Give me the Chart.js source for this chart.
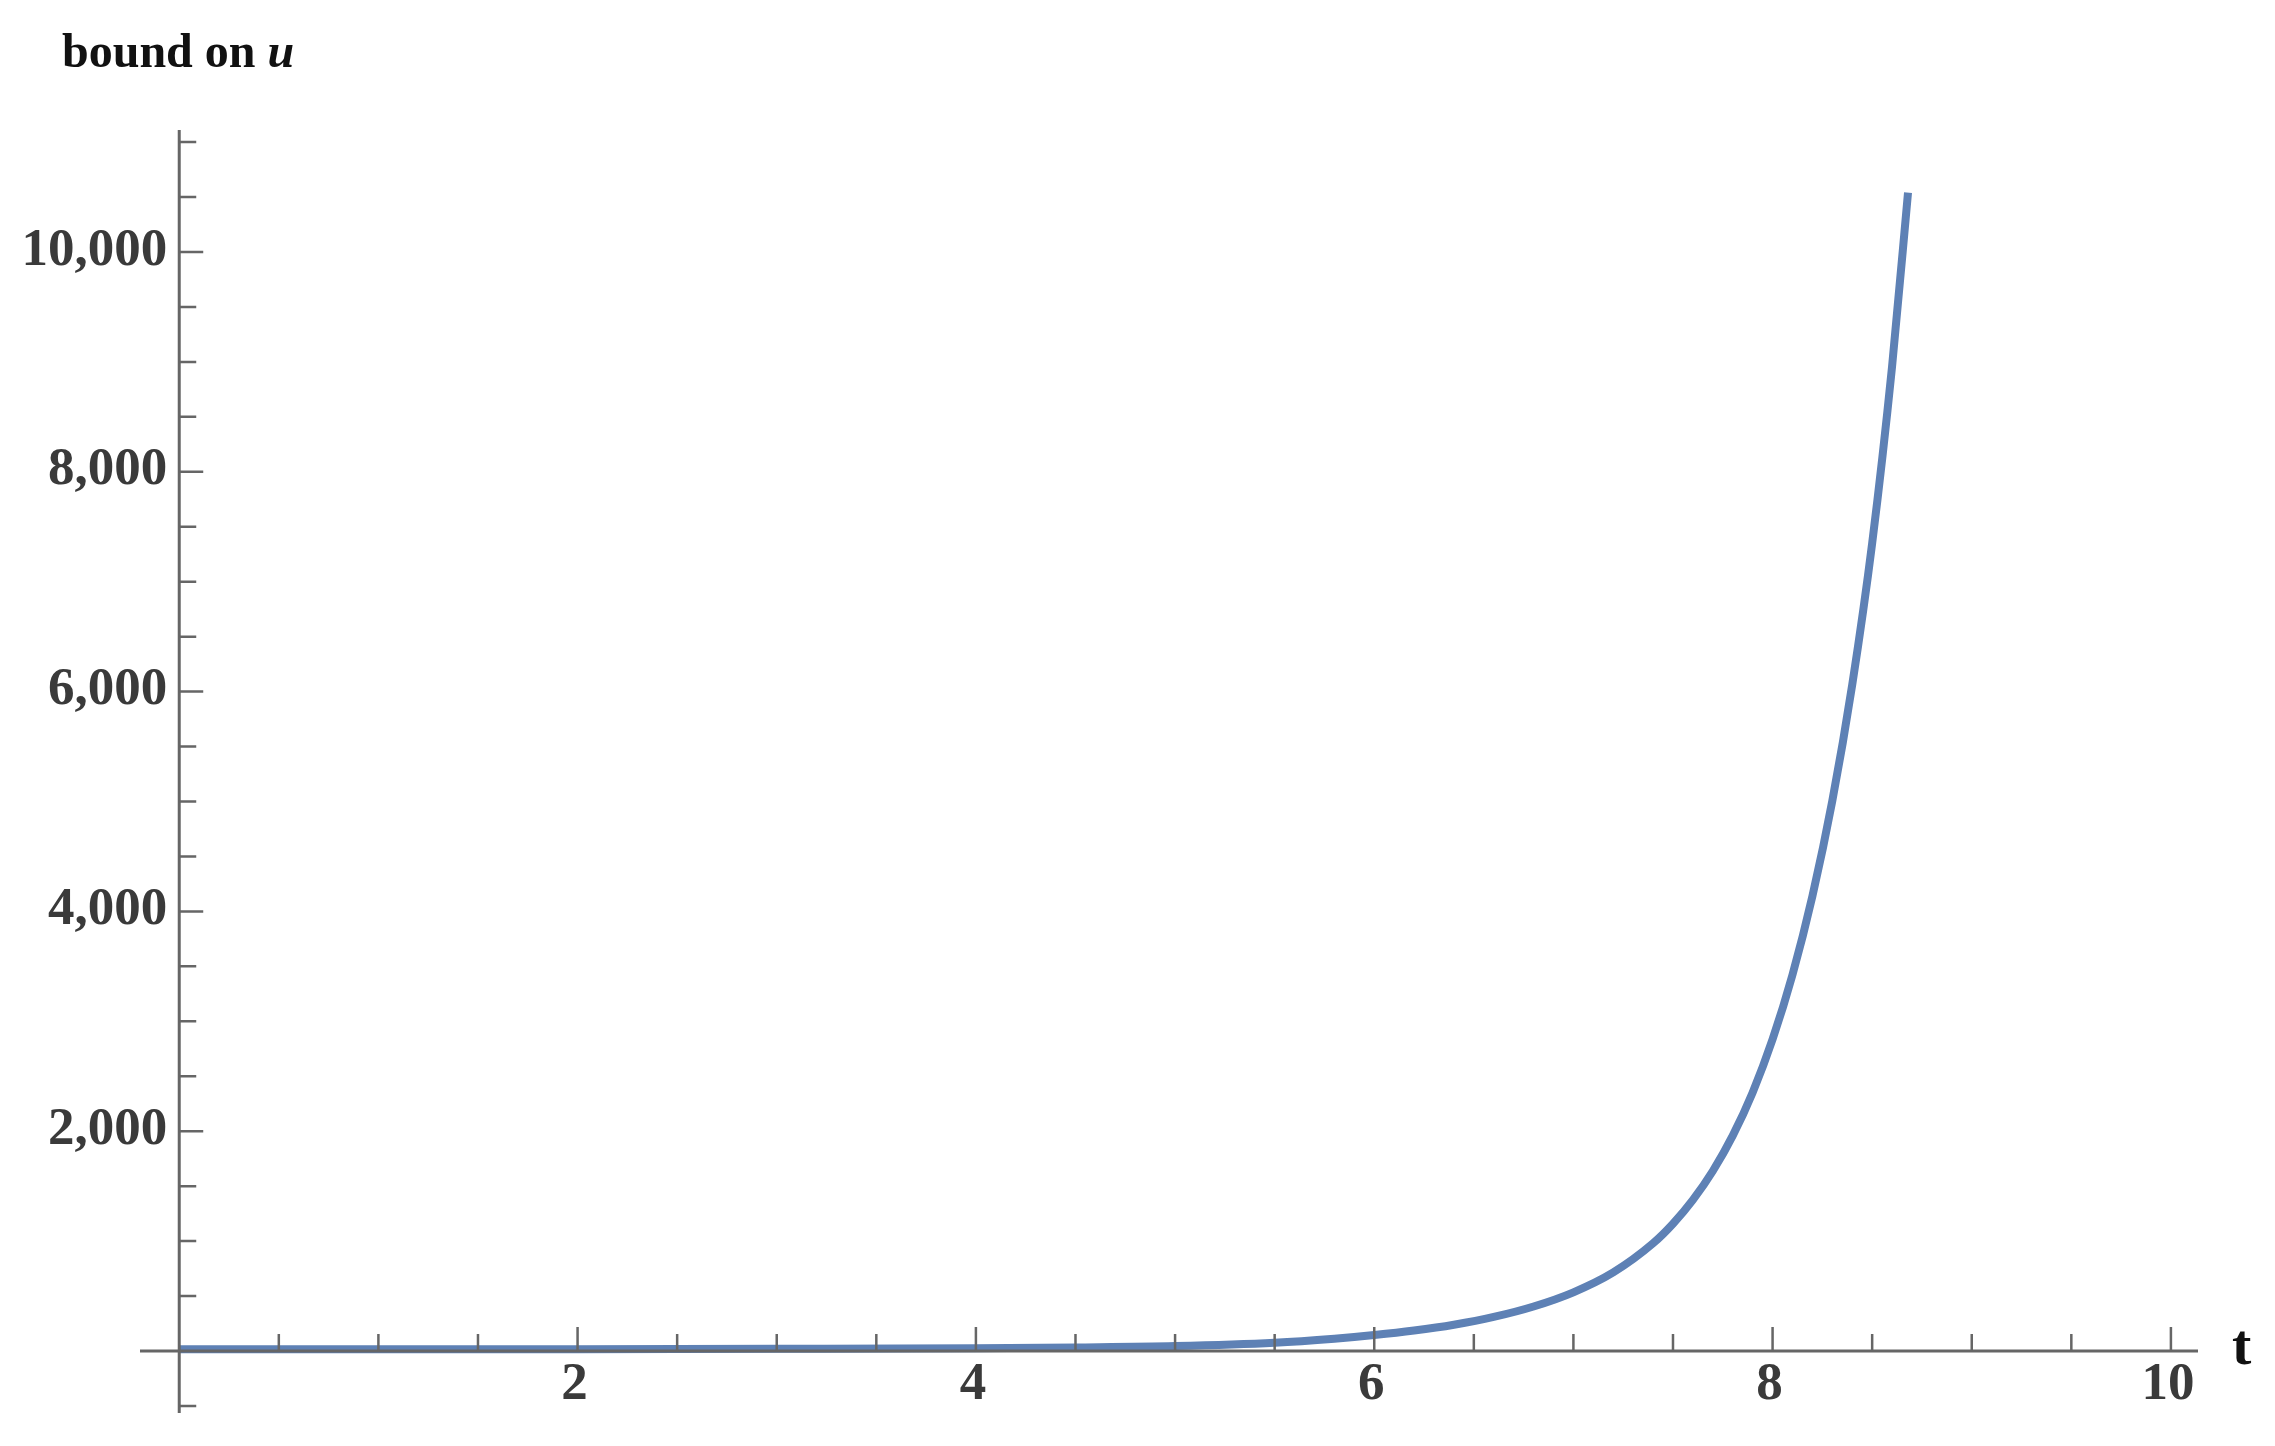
<!DOCTYPE html>
<html>
<head>
<meta charset="utf-8">
<script src="https://cdn.jsdelivr.net/npm/chart.js@4.4.1/dist/chart.umd.min.js"></script>
<style>
  html, body { margin: 0; padding: 0; background: #ffffff; }
  #wrap { width: 2275px; height: 1446px; position: relative; }
  canvas { display: block; }
</style>
</head>
<body>
<div id="wrap"><canvas id="c" width="2275" height="1446"></canvas></div>
<script>
// ---- data ----
const tValues = [0, 1, 2, 3, 4, 4.5, 5, 5.5, 5.8, 6.0, 6.2, 6.4, 6.6, 6.8, 7.0, 7.2, 7.4, 7.5, 7.6, 7.7, 7.8, 7.9, 8.0, 8.1, 8.2, 8.3, 8.4, 8.5, 8.6, 8.68];
const boundValues = [15, 15, 17, 20, 25, 33, 45, 75, 112, 145, 186, 239, 310, 405, 534, 715, 980, 1158, 1375, 1638, 1960, 2353, 2836, 3424, 4139, 5006, 6064, 7350, 8960, 10540];

const xMajorTicks = [2, 4, 6, 8, 10];
const xTickLabels = ['2', '4', '6', '8', '10'];
const xMinorTicks = [0.5, 1, 1.5, 2.5, 3, 3.5, 4.5, 5, 5.5, 6.5, 7, 7.5, 8.5, 9, 9.5];

const yMajorTicks = [2000, 4000, 6000, 8000, 10000];
const yTickLabels = ['2,000', '4,000', '6,000', '8,000', '10,000'];
const yMinorTicks = [-500, 500, 1000, 1500, 2500, 3000, 3500, 4500, 5000, 5500, 6500, 7000, 7500, 8500, 9000, 9500, 10500, 11000];

const yAxisTitle = 'bound on ';
const yAxisTitleVar = 'u';
const xAxisTitle = 't';

const xRange = [-0.197, 10.136];
const yRange = [-564, 11110];

// ---- styles ----
const AXIS_COLOR = '#666666';
const LABEL_COLOR = '#3a3a3a';
const LINE_COLOR = '#5e81b5';
const SERIF = '"Liberation Serif", "DejaVu Serif", serif';

const points = tValues.map((t, i) => ({ x: t, y: boundValues[i] }));

const axesPlugin = {
  id: 'mathAxes',
  afterDatasetsDraw(chart) {
    const ctx = chart.ctx;
    const xs = chart.scales.x, ys = chart.scales.y;
    const area = chart.chartArea;
    const x0 = xs.getPixelForValue(0);
    const y0 = ys.getPixelForValue(0);
    ctx.save();
    ctx.strokeStyle = AXIS_COLOR;
    ctx.lineCap = 'butt';
    // axis lines
    ctx.lineWidth = 3;
    ctx.beginPath();
    ctx.moveTo(area.left, y0); ctx.lineTo(area.right, y0);
    ctx.moveTo(x0, area.top); ctx.lineTo(x0, area.bottom);
    ctx.stroke();
    // ticks
    ctx.lineWidth = 2.5;
    ctx.beginPath();
    xMinorTicks.forEach(v => { const p = xs.getPixelForValue(v); ctx.moveTo(p, y0); ctx.lineTo(p, y0 - 17); });
    xMajorTicks.forEach(v => { const p = xs.getPixelForValue(v); ctx.moveTo(p, y0); ctx.lineTo(p, y0 - 24); });
    yMinorTicks.forEach(v => { const p = ys.getPixelForValue(v); ctx.moveTo(x0, p); ctx.lineTo(x0 + 17, p); });
    yMajorTicks.forEach(v => { const p = ys.getPixelForValue(v); ctx.moveTo(x0, p); ctx.lineTo(x0 + 24, p); });
    ctx.stroke();
    // tick labels
    ctx.fillStyle = LABEL_COLOR;
    ctx.font = 'bold 53px ' + SERIF;
    ctx.textAlign = 'center';
    ctx.textBaseline = 'middle';
    xMajorTicks.forEach((v, i) => {
      ctx.fillText(xTickLabels[i], xs.getPixelForValue(v) - 3, y0 + 34);
    });
    ctx.textAlign = 'right';
    yMajorTicks.forEach((v, i) => {
      ctx.fillText(yTickLabels[i], x0 - 12, ys.getPixelForValue(v) - 1);
    });
    // axis titles
    ctx.fillStyle = '#111111';
    ctx.textAlign = 'left';
    ctx.textBaseline = 'alphabetic';
    ctx.font = 'bold 48px ' + SERIF;
    ctx.fillText(yAxisTitle, 62, 67);
    const w = ctx.measureText(yAxisTitle).width;
    ctx.font = 'italic bold 48px ' + SERIF;
    ctx.fillText(yAxisTitleVar, 62 + w, 67);
    ctx.font = 'bold 58px ' + SERIF;
    ctx.fillText(xAxisTitle, 2232, 1364);
    ctx.restore();
  }
};

new Chart(document.getElementById('c'), {
  type: 'line',
  data: {
    datasets: [{
      data: points,
      borderColor: LINE_COLOR,
      borderWidth: 8,
      pointRadius: 0,
      fill: false,
      cubicInterpolationMode: 'monotone',
      borderCapStyle: 'butt'
    }]
  },
  options: {
    responsive: false,
    animation: false,
    devicePixelRatio: 1,
    layout: { padding: { left: 140, right: 77, top: 130, bottom: 33 } },
    plugins: { legend: { display: false }, tooltip: { enabled: false }, title: { display: false } },
    scales: {
      x: { type: 'linear', min: xRange[0], max: xRange[1], display: false },
      y: { type: 'linear', min: yRange[0], max: yRange[1], display: false }
    }
  },
  plugins: [axesPlugin]
});
</script>
</body>
</html>
